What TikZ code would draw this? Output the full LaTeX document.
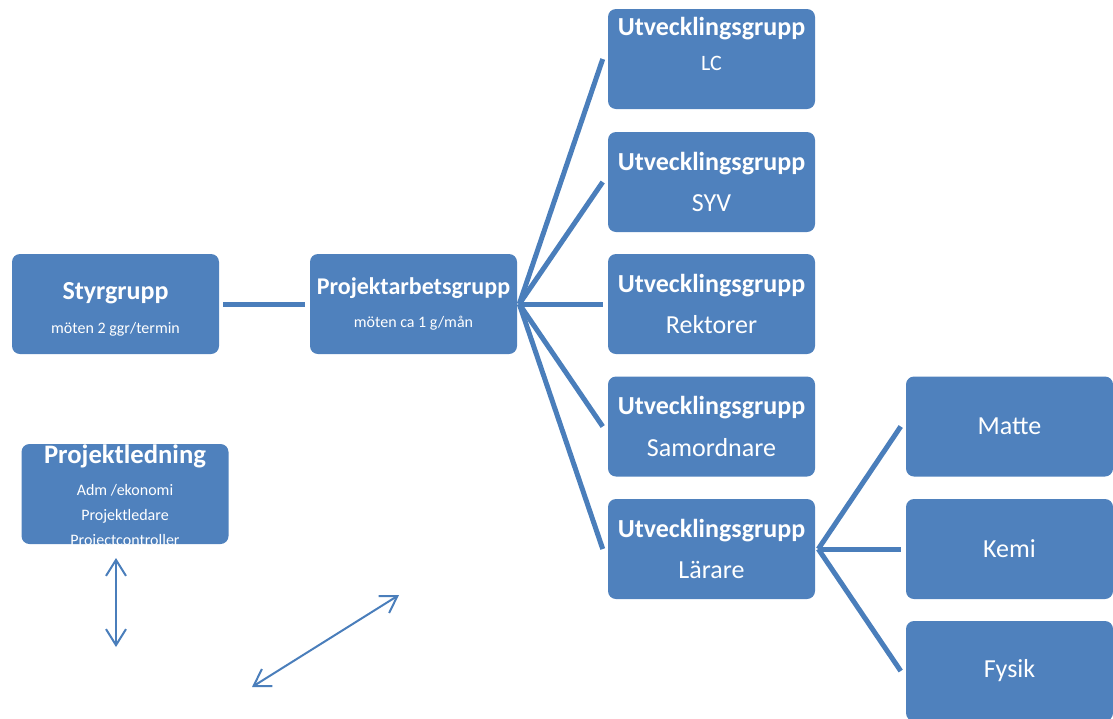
\documentclass[tikz,border=0pt]{standalone}
\usepackage{fontspec}
\setmainfont{Carlito}
\usetikzlibrary{arrows.meta}
\definecolor{boxblue}{RGB}{79,129,189}
\definecolor{lineblue}{RGB}{74,126,187}
\newcommand{\tbig}{\fontsize{19.5}{23}\selectfont}
\newcommand{\tsmall}{\fontsize{12}{14}\selectfont}

\begin{document}
\begin{tikzpicture}[x=0.75pt,y=0.75pt,yscale=-1,xscale=1,
  box/.style={fill=boxblue, rounded corners=6pt, minimum width=155.25pt, minimum height=75pt, inner sep=0pt, text=white, align=center, font=\tbig},
  link/.style={draw=lineblue, line width=3.75pt},
  twoway/.style={draw=lineblue, line width=1.5pt, {Straight Barb[length=12pt,width=15pt]}-{Straight Barb[length=12pt,width=15pt]}}]
%set diagram to 1113 x 718
\useasboundingbox (0,0) rectangle (1113,718);
\clip (0,0) rectangle (1113,718);

%Shape: Rounded Rectangles
\node (styr) at (115.5,304) [box] {\rule{0pt}{21pt}\textbf{Styrgrupp}\\[2pt]{\tsmall möten 2 ggr/termin}};
\node (pag) at (413.5,304) [box] {\fontsize{18}{22}\selectfont\textbf{Projektarbetsgrupp}\\[2pt]{\tsmall möten ca 1 g/mån}};
\node (lc) at (711.5,59) [box] {\textbf{Utvecklingsgrupp}\\[3pt]{\fontsize{16.5}{19}\selectfont LC}\\[0pt]\mbox{}};
\node (syv) at (711.5,182) [box] {\textbf{Utvecklingsgrupp}\\[8pt]SYV};
\node (rek) at (711.5,304) [box] {\textbf{Utvecklingsgrupp}\\[8pt]Rektorer};
\node (sam) at (711.5,426.5) [box] {\textbf{Utvecklingsgrupp}\\[8pt]Samordnare};
\node (lar) at (711.5,549) [box] {\textbf{Utvecklingsgrupp}\\[8pt]Lärare};
\node (matte) at (1009.5,426.5) [box] {Matte};
\node (kemi) at (1009.5,549) [box] {Kemi};
\node (fysik) at (1009.5,671) [box] {Fysik};
% text runs past the box, as in the original
\node (pled) at (125,494) [box] {\fontsize{12}{18.75}\selectfont\smash{\raisebox{-6.75pt}{\begin{tabular}{@{}c@{}}
  {\fontsize{20}{23}\selectfont\textbf{Projektledning}}\\[5.5pt]
  Adm /ekonomi\\ Projektledare\\ Projectcontroller\end{tabular}}}};

%Straight Lines
\draw [link] ([xshift=3pt]styr.east) -- ([xshift=-3.75pt]pag.west);
\foreach \g in {lc,syv,rek,sam,lar}
  \draw [link] ([xshift=1.5pt]pag.east) -- ([xshift=-3.75pt]\g.west);
\foreach \g in {matte,kemi,fysik}
  \draw [link] ([xshift=2.25pt]lar.east) -- ([xshift=-3.75pt]\g.west);

%Double arrows
\coordinate (vtop) at (116,558);
\coordinate (vbot) at (116,647);
\draw [twoway] (vtop) -- (vbot);
\coordinate (dlow) at (252,687);
\coordinate (dhigh) at (399,595);
\draw [twoway] (dlow) -- (dhigh);

\end{tikzpicture}
\end{document}
